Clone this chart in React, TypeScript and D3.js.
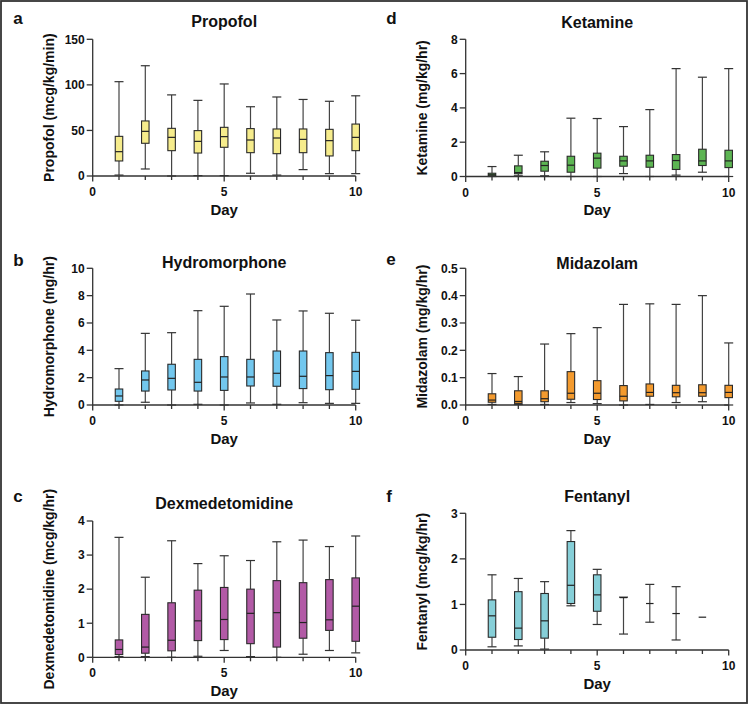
import React from 'react';
import * as d3 from 'd3';

// Each entry: [min, q1, median, q3, max] per day (1..10)
const propofol = [
  [1, 16.5, 26.7, 43.5, 103.5],
  [7.7, 35.9, 49, 60.4, 121],
  [0, 27.8, 42.4, 52.3, 89],
  [0.4, 25.2, 38, 49.8, 83],
  [0.4, 31.5, 43.2, 53.4, 101],
  [3, 25.6, 39.5, 52, 76],
  [1, 24.5, 41.7, 51.6, 86.7],
  [7, 25.6, 40.2, 51.6, 84],
  [2.6, 22, 38.8, 51.2, 82],
  [2.6, 27.8, 42.4, 57, 88],
];
const ketamine = [
  [0, 0.04, 0.1, 0.19, 0.58],
  [0.04, 0.16, 0.23, 0.62, 1.24],
  [0.04, 0.31, 0.64, 0.89, 1.44],
  [0, 0.25, 0.66, 1.18, 3.4],
  [0, 0.49, 1.07, 1.36, 3.38],
  [0.17, 0.6, 0.91, 1.18, 2.91],
  [0, 0.54, 0.91, 1.24, 3.9],
  [0.08, 0.41, 0.93, 1.28, 6.29],
  [0.25, 0.64, 0.91, 1.59, 5.79],
  [0, 0.52, 0.91, 1.53, 6.29],
];
const hydromorphone = [
  [0, 0.27, 0.66, 1.17, 2.66],
  [0.2, 1.02, 1.83, 2.49, 5.24],
  [0, 1.1, 1.95, 2.98, 5.29],
  [0.05, 1.02, 1.66, 3.34, 6.9],
  [0, 1.07, 2.05, 3.54, 7.22],
  [0.15, 1.39, 2.05, 3.34, 8.12],
  [0.05, 1.37, 2.32, 3.95, 6.22],
  [0.17, 1.2, 2.1, 3.95, 6.88],
  [0.12, 1.12, 2.15, 3.83, 6.71],
  [0.12, 1.15, 2.46, 3.85, 6.2],
];
const midazolam = [
  [0.002, 0.01, 0.018, 0.041, 0.115],
  [0.002, 0.006, 0.013, 0.052, 0.104],
  [0.002, 0.012, 0.023, 0.052, 0.223],
  [0.009, 0.021, 0.043, 0.122, 0.261],
  [0.005, 0.02, 0.043, 0.089, 0.283],
  [0, 0.015, 0.032, 0.071, 0.368],
  [0.002, 0.032, 0.046, 0.077, 0.37],
  [0.009, 0.03, 0.045, 0.072, 0.368],
  [0.012, 0.032, 0.045, 0.074, 0.4],
  [0, 0.027, 0.046, 0.072, 0.227],
];
const dexmedetomidine = [
  [0.02, 0.08, 0.23, 0.51, 3.52],
  [0.02, 0.12, 0.3, 1.26, 2.35],
  [0, 0.19, 0.5, 1.6, 3.42],
  [0.03, 0.49, 1.07, 1.97, 2.75],
  [0.2, 0.52, 1.11, 2.05, 2.98],
  [0.02, 0.4, 1.29, 2.0, 2.84],
  [0, 0.3, 1.31, 2.25, 3.39],
  [0.09, 0.56, 1.02, 2.19, 3.44],
  [0.2, 0.79, 1.1, 2.28, 3.25],
  [0.13, 0.47, 1.5, 2.33, 3.56],
];
const fentanyl = [
  [0.07, 0.28, 0.75, 1.1, 1.65],
  [0.09, 0.23, 0.48, 1.28, 1.57],
  [0.02, 0.26, 0.64, 1.24, 1.5],
  [0.97, 1.02, 1.42, 2.38, 2.62],
  [0.56, 0.85, 1.21, 1.65, 1.77],
  [0.35, 1.15, 1.15, 1.15, 1.16],
  [0.61, 1.02, 1.02, 1.02, 1.44],
  [0.22, 0.8, 0.8, 0.8, 1.39],
  [0.72, 0.72, 0.72, 0.72, 0.72],
];

const xTicks = d3.range(0, 11);
const xLabelTicks = [0, 5, 10];

const propofolTicks = [0, 50, 100, 150];
const ketamineTicks = [0, 2, 4, 6, 8];
const hydromorphoneTicks = [0, 2, 4, 6, 8, 10];
const midazolamTicks = [0, 0.1, 0.2, 0.3, 0.4, 0.5];
const dexmedetomidineTicks = [0, 1, 2, 3, 4];
const fentanylTicks = [0, 1, 2, 3];

const FONT = "'Liberation Sans', Arial, Helvetica, sans-serif";
const AXIS = '#333';

type Panel = {
  letter: string; title: string; ylabel: string; data: number[][];
  ticks: number[]; fmt: (v: number) => string; color: string;
  left: number; yTop: number; yBot: number; titleY: number; letterY: number;
};

const LEFT_X = 92.7, RIGHT_X = 465.7, PLOT_W = 263;

const panels: Panel[] = [
  { letter: 'a', title: 'Propofol', ylabel: 'Propofol (mcg/kg/min)', data: propofol, ticks: propofolTicks, fmt: d3.format('d'), color: '#f6ec8c', left: LEFT_X, yTop: 39.3, yBot: 176, titleY: 27, letterY: 24 },
  { letter: 'b', title: 'Hydromorphone', ylabel: 'Hydromorphone (mg/hr)', data: hydromorphone, ticks: hydromorphoneTicks, fmt: d3.format('d'), color: '#72c7ee', left: LEFT_X, yTop: 268.3, yBot: 405, titleY: 268, letterY: 265.5 },
  { letter: 'c', title: 'Dexmedetomidine', ylabel: 'Dexmedetomidine (mcg/kg/hr)', data: dexmedetomidine, ticks: dexmedetomidineTicks, fmt: d3.format('d'), color: '#b25aa6', left: LEFT_X, yTop: 521, yBot: 657.3, titleY: 509.3, letterY: 502.3 },
  { letter: 'd', title: 'Ketamine', ylabel: 'Ketamine (mg/kg/hr)', data: ketamine, ticks: ketamineTicks, fmt: d3.format('d'), color: '#5db553', left: RIGHT_X, yTop: 39.3, yBot: 176.5, titleY: 27.5, letterY: 24 },
  { letter: 'e', title: 'Midazolam', ylabel: 'Midazolam (mg/kg/hr)', data: midazolam, ticks: midazolamTicks, fmt: d3.format('.1f'), color: '#f39a2e', left: RIGHT_X, yTop: 268.3, yBot: 405, titleY: 268.5, letterY: 265 },
  { letter: 'f', title: 'Fentanyl', ylabel: 'Fentanyl (mcg/kg/hr)', data: fentanyl, ticks: fentanylTicks, fmt: d3.format('d'), color: '#86cfd8', left: RIGHT_X, yTop: 513.3, yBot: 650, titleY: 502.3, letterY: 502.3 },
];

const BOX_W = 7.5;
const CAP_W = 9;

function PanelView({ p }: { p: Panel }) {
  const x = d3.scaleLinear().domain([0, 10]).range([p.left, p.left + PLOT_W]);
  const y = d3.scaleLinear().domain([p.ticks[0], p.ticks[p.ticks.length - 1]]).range([p.yBot, p.yTop]);
  const cx = (p.left + p.left + PLOT_W) / 2;
  const midY = (p.yTop + p.yBot) / 2;
  return (
    <g fontFamily={FONT} fontWeight="bold" fill="#111">
      <text x={p.left - 79.5} y={p.letterY} fontSize={17}>{p.letter}</text>
      <text x={cx} y={p.titleY} fontSize={16} textAnchor="middle">{p.title}</text>
      <text transform={`translate(${p.left - 39.2},${midY}) rotate(-90)`} fontSize={14} textAnchor="middle">{p.ylabel}</text>
      {/* boxes */}
      {p.data.map((d, i) => {
        const day = i + 1;
        const X = x(day);
        const [mn, q1, md, q3, mx] = d;
        return (
          <g key={i}>
            {mx > q3 && <line x1={X} x2={X} y1={y(mx)} y2={y(q3)} stroke="#444" strokeWidth={1.2} />}
            {mx > q3 && <line x1={X - CAP_W / 2} x2={X + CAP_W / 2} y1={y(mx)} y2={y(mx)} stroke="#333" strokeWidth={1.2} />}
            {mn < q1 && <line x1={X} x2={X} y1={y(q1)} y2={y(mn)} stroke="#444" strokeWidth={1.2} />}
            {mn < q1 && <line x1={X - CAP_W / 2} x2={X + CAP_W / 2} y1={y(mn)} y2={y(mn)} stroke="#333" strokeWidth={1.2} />}
            {q3 > q1 && <rect x={X - BOX_W / 2} y={y(q3)} width={BOX_W} height={y(q1) - y(q3)} fill={p.color} stroke="#2a2a2a" strokeWidth={1.1} />}
            <line x1={X - BOX_W / 2} x2={X + BOX_W / 2} y1={y(md)} y2={y(md)} stroke="#222" strokeWidth={1.2} />
          </g>
        );
      })}
      {/* y axis */}
      <line x1={p.left} x2={p.left} y1={p.yBot} y2={p.yTop} stroke={AXIS} strokeWidth={1.3} />
      {p.ticks.map((t) => (
        <g key={t}>
          <line x1={p.left - 6} x2={p.left} y1={y(t)} y2={y(t)} stroke={AXIS} strokeWidth={1.3} />
          <text x={p.left - 8} y={y(t)} dy="0.36em" fontSize={12} textAnchor="end">{p.fmt(t)}</text>
        </g>
      ))}
      {/* x axis */}
      <line x1={p.left} x2={p.left + PLOT_W} y1={p.yBot} y2={p.yBot} stroke={AXIS} strokeWidth={1.3} />
      {xTicks.map((t) => {
        const major = xLabelTicks.includes(t);
        return <line key={t} x1={x(t)} x2={x(t)} y1={p.yBot} y2={p.yBot + (major ? 5.5 : 4)} stroke={AXIS} strokeWidth={1.3} />;
      })}
      {xLabelTicks.map((t) => (
        <text key={t} x={x(t)} y={p.yBot + 20} fontSize={12} textAnchor="middle">{t}</text>
      ))}
      <text x={cx} y={p.yBot + 38.5} fontSize={15} textAnchor="middle">Day</text>
    </g>
  );
}

export default function App() {
  return (
    <svg width={749} height={712} style={{ position: 'absolute', left: 0, top: 0, background: '#fff' }}>
      <rect x={0} y={0} width={749} height={712} fill="#fff" />
      <rect x={1} y={1} width={746} height={702} fill="none" stroke="#333" strokeWidth={1.8} />
      {panels.map((p) => <PanelView key={p.letter} p={p} />)}
    </svg>
  );
}
